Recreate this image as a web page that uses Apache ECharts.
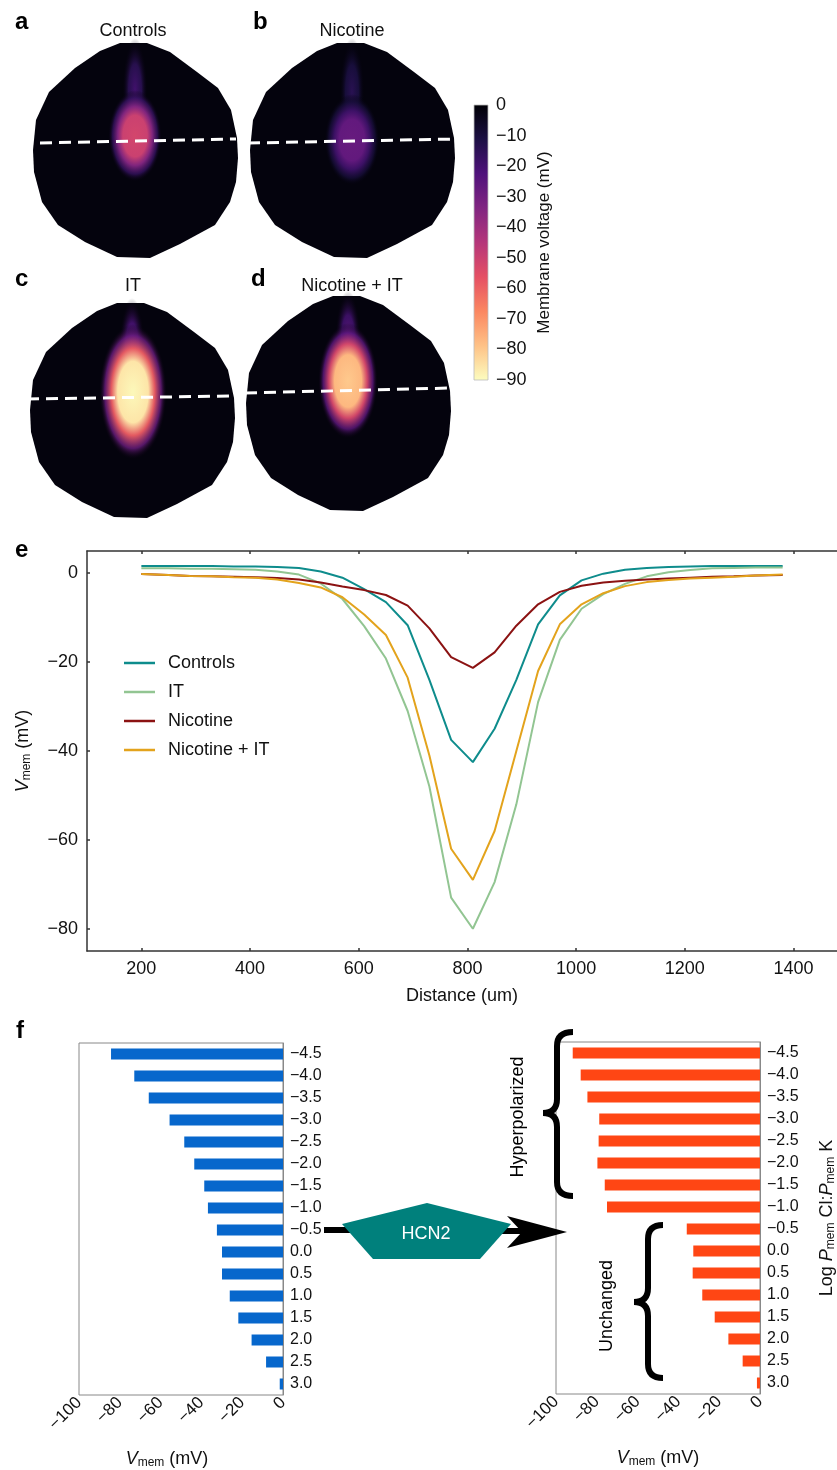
<!DOCTYPE html>
<html lang="en">
<head>
<meta charset="UTF-8">
<title>Vmem patterns</title>
<script src="https://cdn.jsdelivr.net/npm/echarts@6/dist/echarts.min.js"></script>
<style>html,body{margin:0;padding:0;background:#fff;}</style>
</head>
<body>
<div id="fig" style="width:837px;height:1470px;"></div>
<script>
// ---- panels a-d: brightest Vmem in each embryo (mV)
let panelNames = ['Controls', 'Nicotine', 'IT', 'Nicotine + IT'];
let panelLetters = ['a', 'b', 'c', 'd'];
let peakVmem = [-52, -28, -89, -80];
let colorbarTicks = [0, -10, -20, -30, -40, -50, -60, -70, -80, -90];

// ---- panel e: Vmem along the dashed line
let distance = [200, 250, 290, 330, 370, 410, 450, 490, 530, 570, 610, 650, 690, 730, 770, 810, 850, 890, 930, 970, 1010, 1050, 1090, 1130, 1170, 1210, 1250, 1290, 1330, 1380];
let vControls = [1.6, 1.6, 1.6, 1.6, 1.5, 1.5, 1.4, 1.2, 0.4, -1.0, -3.6, -6.5, -11.7, -24, -37.5, -42.5, -35, -24, -11.5, -5, -1.6, -0.1, 0.8, 1.2, 1.4, 1.5, 1.6, 1.6, 1.6, 1.6];
let vIT = [1.1, 1.1, 1.0, 1.0, 0.9, 0.8, 0.4, -0.3, -2.3, -5.8, -11.9, -19.2, -31, -48, -73, -80, -69.5, -52, -29, -15, -8, -4.7, -2.4, -0.7, 0.2, 0.7, 1.1, 1.2, 1.3, 1.3];
let vNicotine = [-0.2, -0.4, -0.6, -0.7, -0.8, -0.9, -1.1, -1.4, -2.1, -3.0, -3.8, -4.9, -7.3, -12.4, -18.9, -21.3, -17.8, -11.8, -7, -4.2, -2.8, -2.1, -1.7, -1.4, -1.2, -1.0, -0.8, -0.7, -0.5, -0.4];
let vNicIT = [-0.2, -0.4, -0.6, -0.7, -0.9, -1.0, -1.4, -2.2, -3.2, -5.4, -9.3, -13.9, -23.5, -41, -62, -69, -58, -40, -22, -11.5, -7, -4.5, -2.9, -2, -1.5, -1.2, -1, -0.8, -0.5, -0.3];
let distTicks = [200, 400, 600, 800, 1000, 1200, 1400];
let vmemTicks = [-80, -60, -40, -20, 0];

// ---- panel f: Vmem vs log permeability ratio, before and after HCN2
let logPerm = [-4.5, -4.0, -3.5, -3.0, -2.5, -2.0, -1.5, -1.0, -0.5, 0.0, 0.5, 1.0, 1.5, 2.0, 2.5, 3.0];
let vmemBefore = [-84.3, -72.9, -65.8, -55.6, -48.4, -43.5, -38.6, -36.8, -32.4, -29.9, -29.9, -26.1, -21.9, -15.4, -8.3, -1.6];
let vmemHCN2 = [-91.8, -87.9, -84.6, -78.8, -79.1, -79.7, -76.1, -75, -35.9, -32.7, -33, -28.3, -22.2, -15.5, -8.5, -1.5];

const FONT = 'Liberation Sans, Arial, Helvetica, sans-serif';
const minus = s => String(s).replace('-', '\u2212');

// magma colour map, 0 mV = black, -90 mV = pale yellow
const MAGMA = ['#000004', '#1c1044', '#4f127b', '#812581', '#b5367a', '#e55064', '#fb8761', '#fec287', '#fcfdbf'];
function hex2rgb(h) { return [1, 3, 5].map(i => parseInt(h.slice(i, i + 2), 16)); }
function magma(v, a) {
    let t = Math.min(1, Math.max(0, -v / 90)) * 8;
    let i = Math.min(7, Math.floor(t)), f = t - i;
    let c0 = hex2rgb(MAGMA[i]), c1 = hex2rgb(MAGMA[i + 1]);
    let c = c0.map((x, k) => Math.round(x + (c1[k] - x) * f));
    return 'rgba(' + c.join(',') + ',' + (a == null ? 1 : a) + ')';
}

// embryo outline, relative to its centre
const OUTLINE = [[12,-107],[35,-98],[62,-78],[83,-62],[96,-40],[102,-12],[103,8],[101,32],[95,52],[80,75],[45,94],[15,108],[-18,107],[-50,92],[-77,75],[-93,52],[-101,22],[-102,0],[-99,-30],[-86,-58],[-60,-82],[-35,-99],[-15,-107]];
const PANELS = [
    { c: [135, 150], lab: [15, 22], title: [133, 31], core: [0, -14], rx: 27, ry: 46, dash: [[40, 143], [236, 139]] },
    { c: [352, 150], lab: [253, 22], title: [352, 31], core: [0, -10], rx: 28, ry: 46, dash: [[248, 143], [457, 139]] },
    { c: [132, 410], lab: [15, 279], title: [133, 286], core: [1, -18], rx: 34, ry: 68, dash: [[27, 399], [233, 396]] },
    { c: [348, 403], lab: [251, 279], title: [352, 286], core: [0, -22], rx: 30, ry: 58, dash: [[245, 393], [452, 388]] }
];

function ellipse(x, y, rx, ry, stops) {
    return {
        type: 'circle', x: x, y: y, scaleX: rx / 100, scaleY: ry / 100, silent: true,
        shape: { cx: 0, cy: 0, r: 100 },
        style: { fill: { type: 'radial', x: 0.5, y: 0.5, r: 0.5, colorStops: stops } }
    };
}

let graphics = [];
PANELS.forEach((p, k) => {
    let cx = p.c[0], cy = p.c[1], pk = peakVmem[k];
    graphics.push({ type: 'polygon', silent: true, shape: { points: OUTLINE.map(q => [cx + q[0], cy + q[1]]) }, style: { fill: '#04030d' } });
    let coreX = cx + p.core[0], coreY = cy + p.core[1];
    let top = cy - 106;
    let sv = pk * 0.22 - 8;
    graphics.push(ellipse(cx, (top + coreY) / 2, 13, (coreY - top) / 2 + 6, [
        { offset: 0, color: magma(sv, 1) }, { offset: 0.5, color: magma(sv * 0.75, 0.9) }, { offset: 1, color: magma(0, 0) }
    ]));
    graphics.push(ellipse(coreX, coreY, p.rx, p.ry, [
        { offset: 0, color: magma(pk, 1) },
        { offset: 0.45, color: magma(pk * 0.96, 1) },
        { offset: 0.64, color: magma(pk * 0.66, 0.97) },
        { offset: 0.83, color: magma(pk * 0.32, 0.8) },
        { offset: 1, color: magma(0, 0) }
    ]));
    graphics.push({ type: 'line', silent: true, shape: { x1: p.dash[0][0], y1: p.dash[0][1], x2: p.dash[1][0], y2: p.dash[1][1] },
        style: { stroke: '#fff', lineWidth: 3, lineDash: [12, 7] } });
    graphics.push({ type: 'text', x: p.lab[0], y: p.lab[1], style: { text: panelLetters[k], font: 'bold 24px ' + FONT, fill: '#000', verticalAlign: 'middle' } });
    graphics.push({ type: 'text', x: p.title[0], y: p.title[1], style: { text: panelNames[k], font: '18px ' + FONT, fill: '#111', align: 'center', verticalAlign: 'middle' } });
});

// colour bar
graphics.push({ type: 'rect', silent: true, shape: { x: 474, y: 105, width: 14, height: 275 },
    style: { stroke: '#bbb', lineWidth: 0.8, fill: { type: 'linear', x: 0, y: 0, x2: 0, y2: 1,
        colorStops: MAGMA.map((c, i) => ({ offset: i / 8, color: c })) } } });

graphics.push({ type: 'text', x: 15, y: 550, style: { text: 'e', font: 'bold 24px ' + FONT, fill: '#000', verticalAlign: 'middle' } });
graphics.push({ type: 'text', x: 16, y: 1031, style: { text: 'f', font: 'bold 24px ' + FONT, fill: '#000', verticalAlign: 'middle' } });

// HCN2 arrow
graphics.push({ type: 'line', silent: true, shape: { x1: 324, y1: 1230, x2: 360, y2: 1230 }, style: { stroke: '#000', lineWidth: 6 } });
graphics.push({ type: 'line', silent: true, shape: { x1: 495, y1: 1231, x2: 526, y2: 1231 }, style: { stroke: '#000', lineWidth: 6 } });
graphics.push({ type: 'polygon', silent: true, shape: { points: [[507, 1216], [567, 1232], [507, 1248], [522, 1232]] }, style: { fill: '#000' } });
graphics.push({ type: 'polygon', silent: true, shape: { points: [[342, 1224], [427, 1203], [511, 1224], [480, 1259], [373, 1259]] }, style: { fill: '#00807c' } });
graphics.push({ type: 'text', x: 426, y: 1234, style: { text: 'HCN2', font: '18px ' + FONT, fill: '#fff', align: 'center', verticalAlign: 'middle' } });

// curly braces
function brace(xEnd, xSpine, xTip, yTop, yMid, yBot) {
    let r = 14, st = { stroke: '#000', lineWidth: 6, fill: null };
    return [
        { type: 'bezierCurve', silent: true, shape: { x1: xEnd, y1: yTop, cpx1: xSpine, cpy1: yTop, x2: xSpine, y2: yTop + r }, style: st },
        { type: 'line', silent: true, shape: { x1: xSpine, y1: yTop + r, x2: xSpine, y2: yMid - r }, style: st },
        { type: 'bezierCurve', silent: true, shape: { x1: xSpine, y1: yMid - r, cpx1: xSpine, cpy1: yMid, x2: xTip, y2: yMid }, style: st },
        { type: 'bezierCurve', silent: true, shape: { x1: xTip, y1: yMid, cpx1: xSpine, cpy1: yMid, x2: xSpine, y2: yMid + r }, style: st },
        { type: 'line', silent: true, shape: { x1: xSpine, y1: yMid + r, x2: xSpine, y2: yBot - r }, style: st },
        { type: 'bezierCurve', silent: true, shape: { x1: xSpine, y1: yBot - r, cpx1: xSpine, cpy1: yBot, x2: xEnd, y2: yBot }, style: st }
    ];
}
graphics = graphics.concat(brace(573, 557, 543, 1032, 1113, 1196), brace(663, 648, 634, 1225, 1302, 1378));
graphics.push({ type: 'text', x: 518, y: 1117, rotation: Math.PI / 2, style: { text: 'Hyperpolarized', font: '18px ' + FONT, fill: '#000', align: 'center', verticalAlign: 'middle' } });
graphics.push({ type: 'text', x: 607, y: 1306, rotation: Math.PI / 2, style: { text: 'Unchanged', font: '18px ' + FONT, fill: '#000', align: 'center', verticalAlign: 'middle' } });

const subRich = {
    i: { fontStyle: 'italic', fontSize: 18, fontFamily: FONT, color: '#111' },
    s: { fontSize: 12, fontFamily: FONT, color: '#111', padding: [8, 0, 0, 0] },
    n: { fontSize: 18, fontFamily: FONT, color: '#111' }
};

let axE = { color: '#333', width: 1.5 };
let lineSeries = [
    ['Controls', vControls, '#0e8c8c'],
    ['IT', vIT, '#92c592'],
    ['Nicotine', vNicotine, '#8b1212'],
    ['Nicotine + IT', vNicIT, '#e3a31c']
].map(s => ({
    name: s[0], type: 'line', xAxisIndex: 0, yAxisIndex: 0, symbol: 'none', silent: true,
    data: distance.map((d, i) => [d, s[1][i]]),
    lineStyle: { color: s[2], width: 2 }, itemStyle: { color: s[2] }
}));

function barX(grid) {
    return {
        type: 'value', gridIndex: grid, min: -100, max: 0, interval: 20,
        name: '{i|V}{s|mem}{n| (mV)}', nameLocation: 'middle', nameGap: 54,
        nameTextStyle: { rich: subRich, padding: grid === 2 ? [0, 28, 0, 0] : 0 },
        axisLine: { onZero: false, lineStyle: { color: '#888', width: 1 } },
        axisTick: { length: 4, lineStyle: { color: '#888' } },
        axisLabel: { rotate: 45, fontSize: 17, fontFamily: FONT, color: '#111', margin: 5, formatter: v => minus(v) },
        splitLine: { show: false }
    };
}
function barY(grid, name) {
    return {
        type: 'category', gridIndex: grid, position: 'right', inverse: true,
        data: logPerm.map(v => minus(v.toFixed(1))),
        name: name || '', nameLocation: 'middle', nameGap: 57, nameRotate: 90,
        nameTextStyle: { rich: subRich },
        axisLine: { lineStyle: { color: '#888', width: 1 } },
        axisTick: { length: 4, interval: 0, lineStyle: { color: '#888' } },
        axisLabel: { fontSize: 16, fontFamily: FONT, color: '#111', margin: 7, interval: 0 }
    };
}
function barYMinor(grid) {
    return {
        type: 'category', gridIndex: grid, position: 'right', inverse: true, data: logPerm.map(String),
        axisLine: { show: false }, axisLabel: { show: false },
        axisTick: { length: 4, interval: 0, alignWithLabel: true, lineStyle: { color: '#888' } }
    };
}

let option = {
    animation: false,
    backgroundColor: '#fff',
    textStyle: { fontFamily: FONT },
    graphic: graphics,
    grid: [
        { left: 87, top: 551, right: 0, height: 400, outerBoundsMode: 'none', containLabel: false },
        { left: 474, top: 105, width: 14, height: 275, outerBoundsMode: 'none', containLabel: false },
        { left: 79, top: 1043, width: 204, height: 352, show: true, borderColor: '#888', borderWidth: 1, outerBoundsMode: 'none', containLabel: false },
        { left: 556, top: 1042, width: 204, height: 352, show: true, borderColor: '#888', borderWidth: 1, outerBoundsMode: 'none', containLabel: false }
    ],
    legend: {
        left: 124, top: 654, orient: 'vertical', itemWidth: 31, itemHeight: 2.5, itemGap: 11, padding: 0,
        icon: 'rect',
        textStyle: { fontSize: 18, fontFamily: FONT, color: '#111', padding: [0, 0, 0, 8] },
        data: ['Controls', 'IT', 'Nicotine', 'Nicotine + IT']
    },
    xAxis: [
        {
            type: 'value', gridIndex: 0, min: 100, max: 1480, position: 'bottom',
            name: 'Distance (um)', nameLocation: 'middle', nameGap: 36,
            nameTextStyle: { fontSize: 18, fontFamily: FONT, color: '#111' },
            axisLine: { onZero: false, lineStyle: axE },
            axisTick: { inside: true, length: 3, customValues: distTicks, lineStyle: axE },
            axisLabel: { fontSize: 18, fontFamily: FONT, color: '#111', margin: 9, customValues: distTicks, formatter: v => String(v) },
            splitLine: { show: false }
        },
        {
            type: 'value', gridIndex: 0, min: 100, max: 1480, position: 'top',
            axisLine: { show: true, onZero: false, lineStyle: axE },
            axisTick: { show: true, inside: true, length: 3, customValues: distTicks, lineStyle: axE },
            axisLabel: { show: false }, splitLine: { show: false }
        },
        { type: 'value', gridIndex: 1, show: false, min: 0, max: 1 },
        barX(2),
        barX(3)
    ],
    yAxis: [
        {
            type: 'value', gridIndex: 0, min: -85, max: 5,
            name: '{i|V}{s|mem}{n| (mV)}', nameLocation: 'middle', nameGap: 54, nameRotate: 90,
            nameTextStyle: { rich: subRich },
            axisLine: { show: true, onZero: false, lineStyle: axE },
            axisTick: { show: true, inside: true, length: 3, customValues: vmemTicks, lineStyle: axE },
            axisLabel: { fontSize: 18, fontFamily: FONT, color: '#111', margin: 9, customValues: vmemTicks, formatter: v => minus(v) },
            splitLine: { show: false }
        },
        {
            type: 'value', gridIndex: 1, position: 'right', min: -90, max: 0, interval: 10,
            name: 'Membrane voltage (mV)', nameLocation: 'middle', nameGap: 48, nameRotate: 90,
            nameTextStyle: { fontSize: 17, fontFamily: FONT, color: '#111' },
            axisLine: { show: false }, axisTick: { show: false }, splitLine: { show: false },
            axisLabel: { fontSize: 18, fontFamily: FONT, color: '#111', margin: 8, formatter: v => minus(v),
                customValues: colorbarTicks }
        },
        barY(2),
        barYMinor(2),
        barY(3, '{n|Log }{i|P}{s|mem}{n| Cl:}{i|P}{s|mem}{n| K}'),
        barYMinor(3)
    ],
    series: lineSeries.concat([
        { type: 'bar', xAxisIndex: 3, yAxisIndex: 2, data: vmemBefore, barWidth: 11, silent: true, itemStyle: { color: '#0767cc' } },
        { type: 'bar', xAxisIndex: 4, yAxisIndex: 4, data: vmemHCN2, barWidth: 11, silent: true, itemStyle: { color: '#ff4614' } }
    ])
};

let chart = echarts.init(document.getElementById('fig'));
chart.setOption(option);
</script>
</body>
</html>
